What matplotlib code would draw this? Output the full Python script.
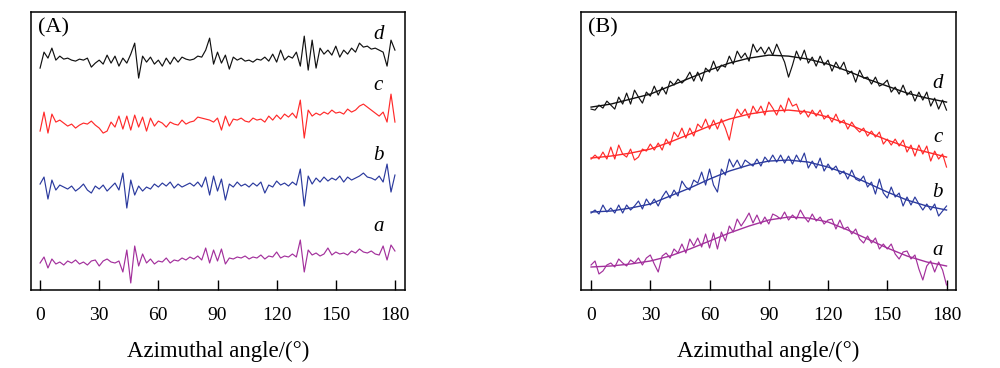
import numpy as np
import matplotlib
matplotlib.use('Agg')
import matplotlib.pyplot as plt

plt.rcParams['font.family'] = ['Liberation Serif', 'DejaVu Serif']

# азимутальный угол, шаг 2 градуса
angle = np.arange(0, 181, 2)
angle_fit = np.arange(0, 181, 10)

# (A) сырые профили, интенсивность в у.е. со сдвигом по вертикали
d_A = [222, 238, 232, 242, 230, 234, 231, 232, 230, 229, 231, 230, 232, 223, 227, 230,
       226, 235, 227, 234, 224, 232, 227, 236, 247, 212, 234, 228, 233, 226, 230, 224,
       232, 226, 233, 228, 233, 231, 230, 231, 234, 233, 240, 252, 226, 238, 227, 235,
       221, 233, 230, 232, 229, 230, 228, 231, 230, 233, 229, 236, 228, 240, 230, 234,
       232, 238, 224, 254, 220, 250, 222, 242, 236, 240, 235, 244, 233, 240, 236, 242,
       238, 247, 243, 244, 241, 242, 240, 238, 224, 250, 240]
c_A = [159, 178, 157, 176, 168, 170, 167, 164, 166, 162, 165, 167, 166, 169, 165, 162,
       157, 159, 168, 163, 174, 161, 174, 160, 175, 163, 173, 159, 172, 164, 169, 167,
       163, 168, 166, 165, 170, 166, 168, 169, 173, 172, 171, 170, 168, 172, 160, 174,
       164, 171, 170, 172, 169, 168, 172, 170, 171, 168, 174, 170, 175, 171, 176, 173,
       177, 172, 190, 152, 180, 174, 177, 175, 178, 176, 180, 177, 178, 176, 181, 178,
       180, 184, 186, 183, 180, 177, 174, 178, 168, 196, 168]
b_A = [106, 113, 91, 110, 100, 105, 103, 101, 104, 99, 102, 106, 100, 97, 104, 101,
       105, 99, 103, 107, 100, 117, 82, 110, 95, 104, 99, 103, 101, 106, 103, 107,
       104, 108, 102, 106, 103, 105, 107, 104, 108, 103, 113, 95, 114, 99, 111, 90,
       106, 103, 108, 104, 106, 103, 107, 104, 108, 97, 105, 103, 109, 105, 107, 104,
       108, 105, 121, 84, 114, 106, 112, 108, 113, 109, 112, 110, 114, 108, 113, 110,
       112, 114, 117, 113, 112, 110, 114, 108, 126, 98, 115]
a_A = [27, 33, 22, 31, 26, 28, 25, 29, 27, 30, 26, 28, 25, 29, 30, 24,
       29, 31, 28, 27, 29, 18, 40, 7, 44, 24, 36, 27, 31, 26, 29, 28,
       32, 27, 30, 29, 32, 30, 33, 31, 34, 30, 42, 27, 40, 29, 41, 26,
       32, 31, 33, 32, 34, 31, 33, 32, 35, 31, 34, 33, 38, 32, 34, 33,
       36, 33, 50, 18, 40, 35, 37, 34, 36, 42, 35, 38, 36, 37, 35, 39,
       37, 41, 38, 37, 39, 36, 35, 44, 30, 45, 39]

# (B) сырые профили
d_B = [181, 180, 185, 182, 189, 185, 181, 193, 186, 197, 186, 200, 193, 187, 198, 194,
       204, 195, 203, 196, 209, 205, 211, 207, 211, 218, 209, 218, 209, 222, 218, 229,
       219, 225, 223, 234, 226, 239, 232, 237, 229, 246, 238, 243, 236, 243, 235, 246,
       237, 228, 213, 225, 239, 230, 240, 227, 233, 224, 234, 225, 230, 219, 228, 221,
       228, 216, 219, 208, 220, 212, 213, 206, 213, 204, 206, 210, 198, 203, 196, 205,
       195, 199, 189, 198, 190, 198, 184, 192, 181, 190, 180]
c_B = [131, 135, 131, 138, 131, 143, 131, 145, 136, 133, 141, 130, 133, 141, 139, 146,
       140, 147, 140, 151, 145, 158, 153, 162, 152, 162, 154, 166, 162, 171, 161, 170,
       161, 171, 162, 150, 170, 181, 175, 181, 172, 184, 177, 184, 175, 188, 182, 175,
       185, 178, 192, 184, 186, 176, 180, 173, 180, 174, 180, 171, 175, 168, 176, 167,
       170, 161, 168, 162, 158, 162, 154, 159, 153, 158, 146, 151, 145, 151, 144, 150,
       138, 145, 134, 145, 136, 144, 129, 139, 131, 136, 123]
b_B = [77, 80, 76, 85, 78, 82, 77, 85, 77, 85, 80, 84, 89, 81, 91, 85,
       91, 84, 93, 99, 92, 100, 94, 109, 103, 100, 110, 107, 118, 105, 121, 105,
       98, 121, 115, 131, 123, 130, 122, 130, 127, 124, 131, 124, 133, 128, 135, 128,
       135, 127, 134, 126, 135, 128, 137, 122, 129, 122, 132, 119, 126, 120, 124, 116,
       119, 111, 120, 111, 109, 114, 103, 108, 96, 111, 97, 92, 103, 93, 97, 84,
       93, 85, 93, 86, 80, 86, 80, 86, 74, 79, 84]
a_B = [25, 29, 16, 19, 25, 27, 23, 31, 27, 24, 30, 27, 32, 25, 32, 35,
       26, 18, 34, 37, 32, 41, 37, 46, 37, 51, 44, 52, 43, 56, 42, 57,
       41, 58, 49, 64, 58, 71, 64, 70, 77, 67, 75, 66, 73, 66, 76, 74,
       71, 78, 70, 75, 71, 80, 73, 68, 76, 69, 73, 66, 70, 71, 61, 70,
       61, 63, 56, 61, 51, 47, 54, 47, 52, 41, 46, 41, 46, 36, 31, 38,
       39, 31, 35, 21, 10, 24, 29, 18, 28, 20, 5]

# (B) аппроксимация
d_fit = [183, 186, 191, 196, 204, 212, 220, 227, 232, 235, 234, 231, 226, 219, 211, 204, 197, 192, 188]
c_fit = [132, 134, 137, 141, 148, 156, 164, 171, 176, 179, 180, 178, 173, 166, 158, 150, 143, 138, 133]
b_fit = [78, 79, 82, 86, 94, 102, 111, 119, 125, 129, 130, 128, 123, 116, 107, 98, 90, 84, 80]
a_fit = [23, 24, 26, 29, 34, 41, 49, 57, 64, 70, 73, 72, 68, 60, 51, 42, 34, 28, 24]

names = ['d', 'c', 'b', 'a']
colors = ['#111111', '#ff2a2a', '#2b3a9e', '#a3309c']
label_y_A = [256, 205, 135, 64]
label_y_B = [207, 153, 98, 40]

fig = plt.figure(figsize=(10, 3.68), dpi=100)
ax1 = fig.add_axes([0.031, 0.212, 0.374, 0.755])
ax2 = fig.add_axes([0.581, 0.212, 0.375, 0.755])

for s, col in zip([d_A, c_A, b_A, a_A], colors):
    ax1.plot(angle, s, color=col, lw=0.85)
for s, f, col in zip([d_B, c_B, b_B, a_B], [d_fit, c_fit, b_fit, a_fit], colors):
    ax2.plot(angle, s, color=col, lw=0.85)
    ax2.plot(angle_fit, f, color=col, lw=1.0)

for ax, ly, lx, tag, xl in [(ax1, label_y_A, 171.5, '(A)', (-4.6, 185.1)),
                            (ax2, label_y_B, 175.5, '(B)', (-5.1, 184.8))]:
    for n, y in zip(names, ly):
        ax.text(lx, y, n, fontsize=15, style='italic', ha='center', va='center')
    ax.text(0.018, 0.945, tag, transform=ax.transAxes, fontsize=16, va='center', ha='left')
    ax.set_xlim(*xl)
    ax.set_ylim(0, 278)
    ax.set_xticks(range(0, 181, 30))
    ax.set_yticks([])
    ax.tick_params(axis='x', direction='in', length=7, width=1, labelsize=14, pad=12)
    ax.set_xlabel('Azimuthal angle/(°)', fontsize=16.5, labelpad=12)
    for sp in ax.spines.values():
        sp.set_linewidth(1.1)

fig.savefig('out.png', dpi=100)
